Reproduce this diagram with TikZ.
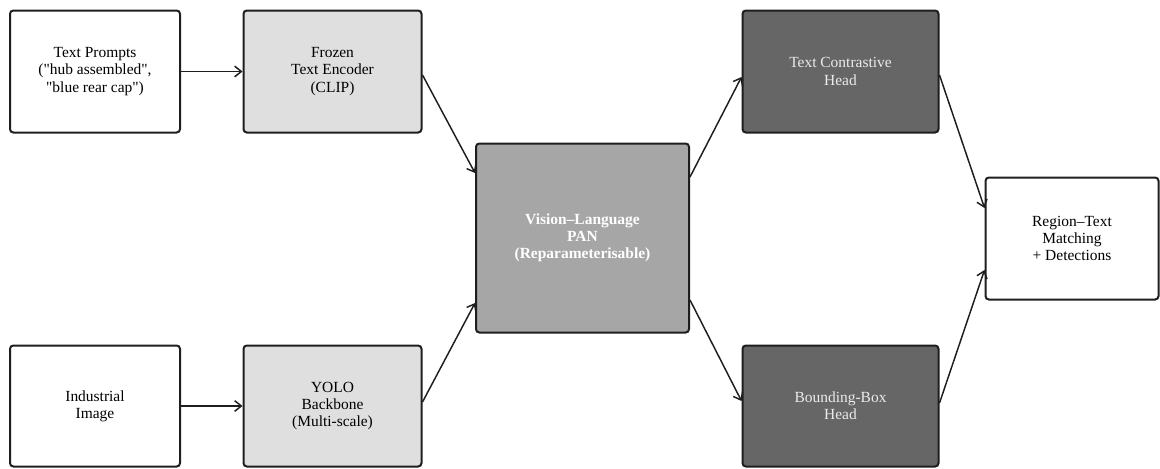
\documentclass[tikz,border=0pt]{standalone}
\usepackage{fontspec}
\setmainfont{Liberation Serif}[Ligatures=TeXOff]
\usetikzlibrary{arrows.meta,calc}
\definecolor{lightbox}{HTML}{DFDFDF}
\definecolor{midbox}{HTML}{A6A6A6}
\definecolor{darkbox}{HTML}{666666}
\definecolor{edge}{HTML}{1E1E1E}
\begin{document}
\begin{tikzpicture}[x=0.75pt,y=-0.75pt,
  box/.style={draw=edge,line width=1.5pt,rounded corners=2.5pt,align=center,
    inner sep=0pt,font=\fontsize{11.6}{12.9}\selectfont},
  whitebox/.style={box,fill=white,text=black},
  lightfill/.style={box,fill=lightbox,text=black},
  panbox/.style={box,fill=midbox,text=white,font=\fontsize{11.6}{12.9}\selectfont\bfseries},
  headbox/.style={box,fill=darkbox,text=white!92!black},
  conn/.style={draw=edge,line width=1.1pt,-{Straight Barb[length=5pt,width=8pt,line width=1.1pt]}}]
\useasboundingbox (0,0) rectangle (1160,468);
\node[whitebox,minimum width=170*0.75pt,minimum height=122*0.75pt] (tp) at (95,71.5)
  {Text Prompts\\("hub assembled",\\"blue rear cap")};
\node[lightfill,minimum width=178*0.75pt,minimum height=122*0.75pt] (fe) at (332.5,71.5)
  {Frozen\\Text Encoder\\(CLIP)};
\node[whitebox,minimum width=170*0.75pt,minimum height=121*0.75pt] (ii) at (95,406)
  {Industrial\\Image};
\node[lightfill,minimum width=178*0.75pt,minimum height=121*0.75pt] (yb) at (332.5,406)
  {YOLO\\Backbone\\(Multi-scale)};
\node[panbox,minimum width=213*0.75pt,minimum height=189*0.75pt] (pan) at (582.5,238)
  {Vision–Language\\PAN\\(Reparameterisable)};
\node[headbox,minimum width=196*0.75pt,minimum height=122*0.75pt] (tc) at (840.5,71.5)
  {Text Contrastive\\Head};
\node[headbox,minimum width=196*0.75pt,minimum height=121*0.75pt] (bb) at (840.5,406)
  {Bounding-Box\\Head};
\node[whitebox,minimum width=173*0.75pt,minimum height=122*0.75pt] (rt) at (1072,238.5)
  {Region–Text\\Matching\\+ Detections};
\draw[conn] (tp.east) -- (fe.west);
\draw[conn] (ii.east) -- (yb.west);
\draw[conn] ($(fe.east)+(0,3.5)$) -- ($(pan.west)+(0,-65)$);
\draw[conn] ($(yb.east)+(0,-4)$) -- ($(pan.west)+(0,65)$);
\draw[conn] ($(pan.east)+(0,-61)$) -- ($(tc.west)+(0,5.5)$);
\draw[conn] ($(pan.east)+(0,62)$) -- ($(bb.west)+(0,-5)$);
\draw[conn] ($(tc.east)+(0,3.5)$) -- ($(rt.west)+(0,-30.5)$);
\draw[conn] ($(bb.east)+(0,-3)$) -- ($(rt.west)+(0,31.5)$);
\end{tikzpicture}
\end{document}
